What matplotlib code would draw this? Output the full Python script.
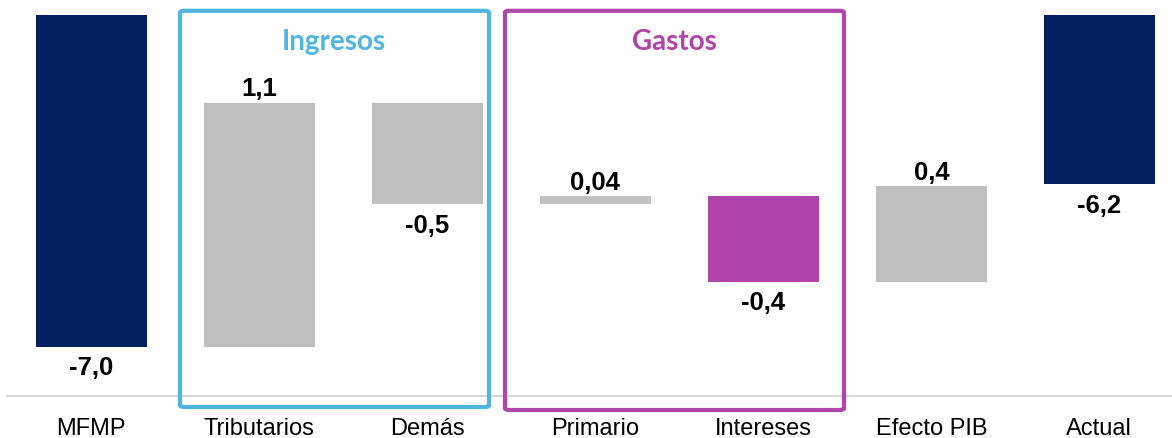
import matplotlib
matplotlib.use("Agg")
import matplotlib.pyplot as plt
from matplotlib.patches import FancyBboxPatch

# ---- data ----
categories = ["MFMP", "Tributarios", "Demás", "Primario", "Intereses", "Efecto PIB", "Actual"]
start_total = -7.0
changes = [1.20, -0.50, 0.04, -0.42, 0.47]
end_total = -6.2
value_labels = ["-7,0", "1,1", "-0,5", "0,04", "-0,4", "0,4", "-6,2"]
group_titles = ["Ingresos", "Gastos"]

NAVY = "#002060"
GRAY = "#BFBFBF"
MAGENTA = "#B044A8"
BLUE_BOX = "#4FB5E1"
PURPLE_BOX = "#B046AA"
bar_colors = [NAVY, GRAY, GRAY, GRAY, MAGENTA, GRAY, NAVY]

plt.rcParams['font.family'] = ['Liberation Sans', 'DejaVu Sans']

W, H = 1172, 438
fig = plt.figure(figsize=(W / 100, H / 100), dpi=100)
# axes from px x 7..1172, y 15..396
ax = fig.add_axes([7 / W, 1 - 396 / H, 1165 / W, (396 - 15) / H])

# compute bars
bottoms, tops = [], []
bottoms.append(start_total); tops.append(0.0)
level = start_total
for c in changes:
    lo, hi = sorted([level, level + c])
    bottoms.append(lo); tops.append(hi)
    level += c
bottoms.append(end_total); tops.append(0.0)

x = list(range(len(categories)))
heights = [t - b for t, b in zip(tops, bottoms)]
ax.bar(x, heights, bottom=bottoms, width=0.664, color=bar_colors, edgecolor="none")

ax.set_ylim(-7.242, -5.369)
ax.set_xlim(-0.502, -0.502 + 1165 / 168)

# value labels
deltas = [start_total] + changes + [end_total]
for i, (d, b, t, lab) in enumerate(zip(deltas, bottoms, tops, value_labels)):
    is_total = i in (0, len(categories) - 1)
    if (not is_total) and d > 0:
        ax.annotate(lab, (i, t), xytext=(0, 13.5 * 0.72), textcoords="offset points",
                    ha="center", va="center", fontsize=18.5, fontweight="bold", color="black")
    else:
        ax.annotate(lab, (i, b), xytext=(0, -21.5 * 0.72), textcoords="offset points",
                    ha="center", va="center", fontsize=18.5, fontweight="bold", color="black")

for s in ["top", "left", "right"]:
    ax.spines[s].set_visible(False)
ax.spines["bottom"].set_color("#D9D9D9")
ax.spines["bottom"].set_linewidth(1.5)
ax.set_yticks([])
ax.set_xticks(x)
ax.set_xticklabels(categories, fontsize=17)
ax.tick_params(axis="x", length=0, pad=16)

# group boxes (figure pixel coords)
def box(x0, y0, x1, y1, color):
    p = FancyBboxPatch((x0 / W, 1 - y1 / H), (x1 - x0) / W, (y1 - y0) / H,
                       boxstyle="round,pad=0,rounding_size=0.004",
                       transform=fig.transFigure, fill=False,
                       edgecolor=color, linewidth=3.0, clip_on=False)
    fig.add_artist(p)

box(180, 10.8, 489, 407, BLUE_BOX)
box(505, 10.8, 844, 410, PURPLE_BOX)

fig.text(334 / W, 1 - 42 / H, group_titles[0], ha="center", va="center",
         fontsize=20, fontweight="bold", color=BLUE_BOX, family=["Lato", "DejaVu Sans"])
fig.text(674 / W, 1 - 42 / H, group_titles[1], ha="center", va="center",
         fontsize=20, fontweight="bold", color=MAGENTA, family=["Lato", "DejaVu Sans"])

fig.savefig("out.png", dpi=100)
